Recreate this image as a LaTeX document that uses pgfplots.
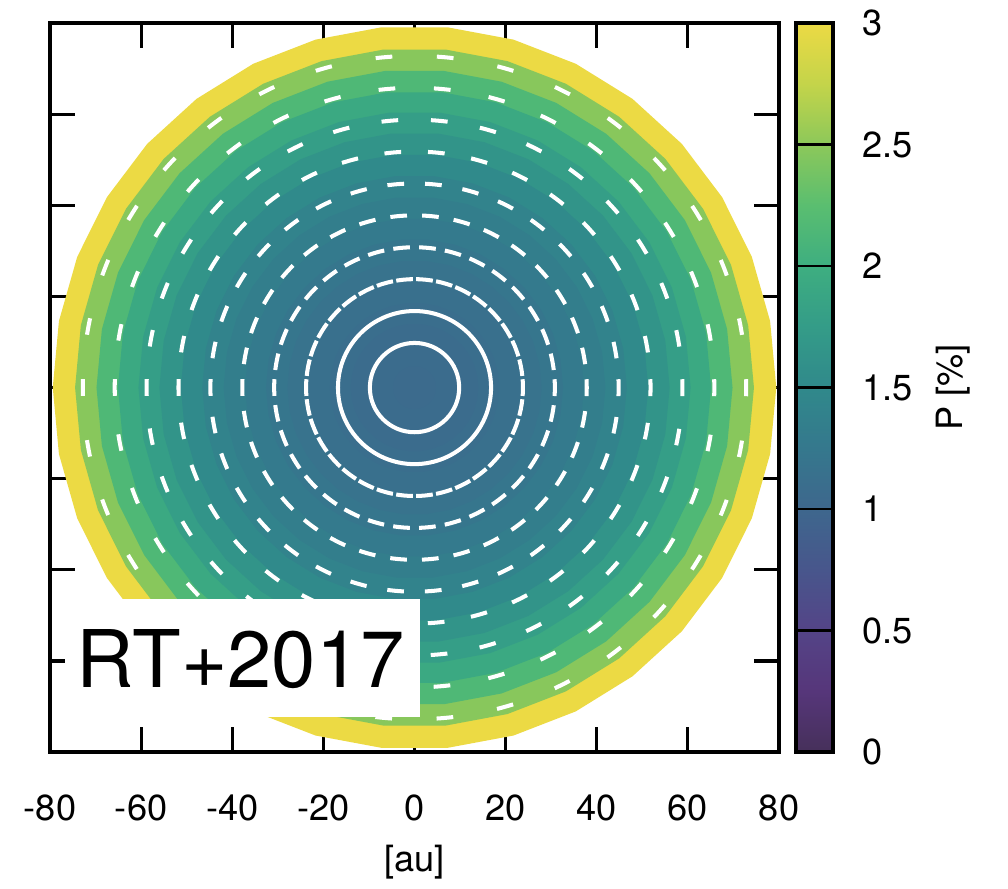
\documentclass[border=0pt]{standalone}
\usepackage{fontspec}
\setmainfont{TeX Gyre Heros}
\usepackage{pgfplots}
\usepackage{pgfplotstable}
\pgfplotsset{compat=1.18}
\pgfplotsset{/pgf/number format/assume math mode=true}

% radial bands of the model, centred at (x,y): outer radius [au] and polarisation degree [%]
\pgfplotstableread{
x y r    P
0 0 79.4 3.00
0 0 74.5 2.48
0 0 69.8 2.15
0 0 65.1 1.93
0 0 60.6 1.78
0 0 56.0 1.64
0 0 51.3 1.52
0 0 46.6 1.42
0 0 41.9 1.34
0 0 37.2 1.28
0 0 32.6 1.22
0 0 27.9 1.17
0 0 23.3 1.13
0 0 18.6 1.10
0 0 14.0 1.08
0 0 9.3  1.07
0 0 4.7  1.06
}\ringtable

% contour radii [au]
\pgfplotstableread{
x y r
0 0 9.8
0 0 16.8
}\solidcontours
\pgfplotstableread{
x y r
0 0 23.8
0 0 30.8
0 0 37.8
0 0 44.8
0 0 51.8
0 0 58.8
0 0 65.8
0 0 72.8
}\dashedcontours

% 1 au in pt on this axis (262pt for 160 au)
\def\auscale{1.6375}

% 34-sided filled band, radius = mark size
\pgfdeclareplotmark{ringpoly}{%
  \pgfpathmoveto{\pgfqpoint{\pgfplotmarksize}{0pt}}%
  \foreach \k in {1,...,33}{%
    \pgfpathlineto{\pgfpointpolar{\k*360/34}{\pgfplotmarksize}}}%
  \pgfpathclose
  \pgfusepathqfill
}
% dashed contour: 34 dashes per circle, one centred on every grid angle
\pgfdeclareplotmark{dashring}{%
  \pgfmathsetmacro\cper{2*pi*\pgfplotmarksize/34}%
  \pgfmathsetmacro\cgap{\cper-6}%
  \pgfsetlinewidth{1.45pt}%
  \pgfsetdash{{6pt}{\cgap pt}}{3pt}%
  \pgfpathcircle{\pgfpointorigin}{\pgfplotmarksize}%
  \pgfusepathqstroke
}
\pgfdeclareplotmark{solidring}{%
  \pgfsetlinewidth{1.45pt}%
  \pgfsetdash{}{0pt}%
  \pgfpathcircle{\pgfpointorigin}{\pgfplotmarksize}%
  \pgfusepathqstroke
}

\pgfplotsset{
  colormap={pviridis}{
    rgb255=(70,48,90) rgb255=(86,54,122) rgb255=(84,68,135) rgb255=(72,86,140)
    rgb255=(62,103,141) rgb255=(53,120,141) rgb255=(48,137,139) rgb255=(52,156,136)
    rgb255=(62,174,128) rgb255=(90,190,112) rgb255=(140,200,90) rgb255=(196,212,74)
    rgb255=(236,218,68)
  },
  sizedmarks/.style={
    scatter, only marks,
    visualization depends on={\thisrow{r}*\auscale \as \msize},
    scatter/@pre marker code/.append style={/tikz/mark size=\msize pt},
  },
  whitemarks/.style={scatter/use mapped color={draw=white, fill=white}},
}

\begin{document}
\begin{tikzpicture}
\useasboundingbox (-17.97pt,-49.2pt) rectangle (344.3pt,270.3pt);
\begin{axis}[
  scale only axis, width=262pt, height=262pt,
  xmin=-80, xmax=80, ymin=-80, ymax=80,
  xtick={-80,-60,...,80}, ytick={-80,-60,...,80}, yticklabels={},
  tick align=inside, major tick length=9pt,
  tick style={black, line width=1.1pt},
  axis line style={line width=1.2pt},
  axis on top,
  tick label style={font=\fontsize{13pt}{15pt}\selectfont},
  xticklabel style={yshift=-12pt},
  xlabel={[au]},
  xlabel style={at={(rel axis cs:0.5,-0.151)}, anchor=center, font=\fontsize{13pt}{15pt}\selectfont},
  colormap name=pviridis,
  point meta min=0, point meta max=3,
  colorbar,
  colorbar style={
    at={(parent axis.north east)}, anchor=north west, xshift=-2.5pt,
    scale only axis, width=13.3pt, height=262pt,
    ymin=0, ymax=3,
    ytick={0,0.5,...,3},
    ytick pos=right, yticklabel pos=right,
    tick align=inside, major tick length=13.3pt,
    tick style={black, line width=0.8pt},
    axis line style={line width=1.2pt},
    axis on top,
    yticklabel style={font=\fontsize{13pt}{15pt}\selectfont, anchor=west, xshift=7pt},
    ylabel={P [\%]},
    ylabel style={at={([xshift=43.2pt]rel axis cs:1,0.5)}, anchor=center, font=\fontsize{13pt}{15pt}\selectfont},
  },
]
% polarisation bands, outermost first
\addplot[sizedmarks, mark=ringpoly, point meta=\thisrow{P}]
  table[x=x, y=y] {\ringtable};
% contours
\addplot[whitemarks, sizedmarks, mark=solidring, point meta=\thisrow{r}]
  table[x=x, y=y] {\solidcontours};
\addplot[whitemarks, sizedmarks, mark=dashring, point meta=\thisrow{r}]
  table[x=x, y=y] {\dashedcontours};
\coordinate (rtSW) at (axis cs:-76.6,-72.4);
\coordinate (rtNE) at (axis cs:1.1,-46.5);
\coordinate (rtT) at (axis cs:-74.2,-65.8);
\end{axis}
\fill[white] (rtSW) rectangle (rtNE);
\node[anchor=base west, inner sep=0pt, font=\fontsize{28.6pt}{32pt}\selectfont] at (rtT) {RT+2017};
\end{tikzpicture}
\end{document}
